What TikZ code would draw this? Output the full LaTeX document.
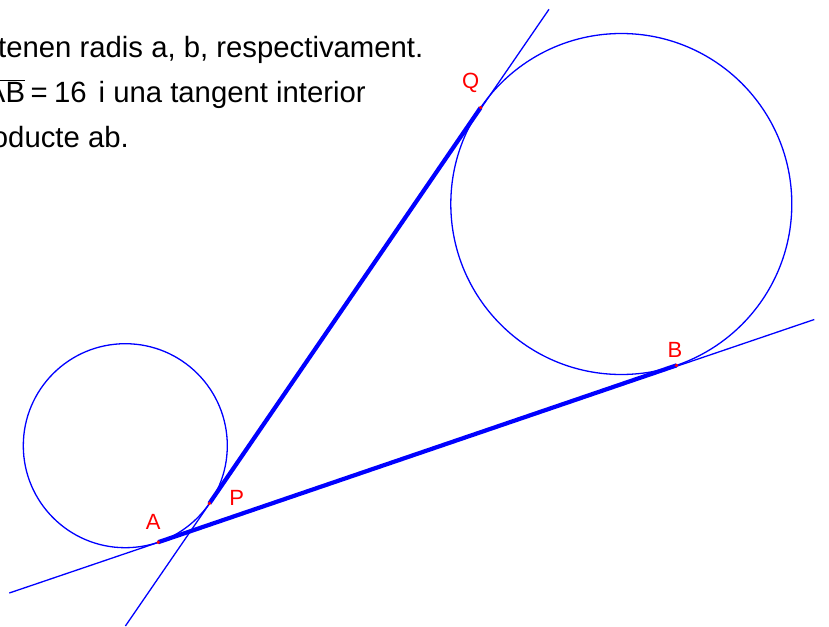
\documentclass[tikz,border=0pt]{standalone}
\usepackage{fontspec}
\setmainfont{Liberation Sans}
\begin{document}
\begin{tikzpicture}[x=1pt,y=-1pt,
  thinline/.style={draw={rgb,255:red,0;green,0;blue,255},line width=1.3pt},
  thickline/.style={draw={rgb,255:red,0;green,0;blue,255},line width=4.2pt},
  ptlabel/.style={text={rgb,255:red,255;green,0;blue,0},inner sep=0pt,font=\fontsize{22}{26}\selectfont},
  txt/.style={inner sep=0pt,anchor=base east,font=\fontsize{29.3}{35}\selectfont},
  dotmark/.style={fill={rgb,255:red,255;green,0;blue,0}}]
\useasboundingbox (0,0) rectangle (829,626);
\clip (0,0) rectangle (829,626);
% centres and points
\coordinate (C1) at (125.3,445.7);
\coordinate (C2) at (621.3,204);
\coordinate (A) at (158.25,542.2);
\coordinate (B) at (676.4,365.4);
\coordinate (P) at (209.4,503.4);
\coordinate (Q) at (480.65,107.6);
\coordinate (L1) at (9.3,593.0);
\coordinate (L2) at (814.3,319.5);
\coordinate (M1) at (125.4,626);
\coordinate (M2) at (549,9.3);
% circles
\draw[thinline] (C1) circle[radius=102];
\draw[thinline] (C2) circle[radius=170.5];
% tangent lines
\draw[thinline] (L1) -- (L2);
\draw[thinline] (M1) -- (M2);
\draw[thickline] (A) -- (B);
\draw[thickline] (P) -- (Q);
% points
\foreach \p in {A,B,P,Q} \fill[dotmark] (\p) circle[radius=1.8];
% labels
\node[ptlabel] (lA) at (153.3,521.7) {A};
\node[ptlabel] (lP) at (236.7,498.3) {P};
\node[ptlabel] (lQ) at (470.7,83.3) {Q};
\node[ptlabel] (lB) at (675,350) {B};
% text
\node[txt] (t1) at (423.5,57) {tenen radis a, b, respectivament.};
\node[txt] (t2) at (366,102) {$\overline{\mbox{AB}}$\hspace{5.5pt}=\hspace{6.4pt}16\hspace{12pt}i una tangent interior};
\node[txt] (t3) at (129,147) {oducte ab.};
\end{tikzpicture}
\end{document}
